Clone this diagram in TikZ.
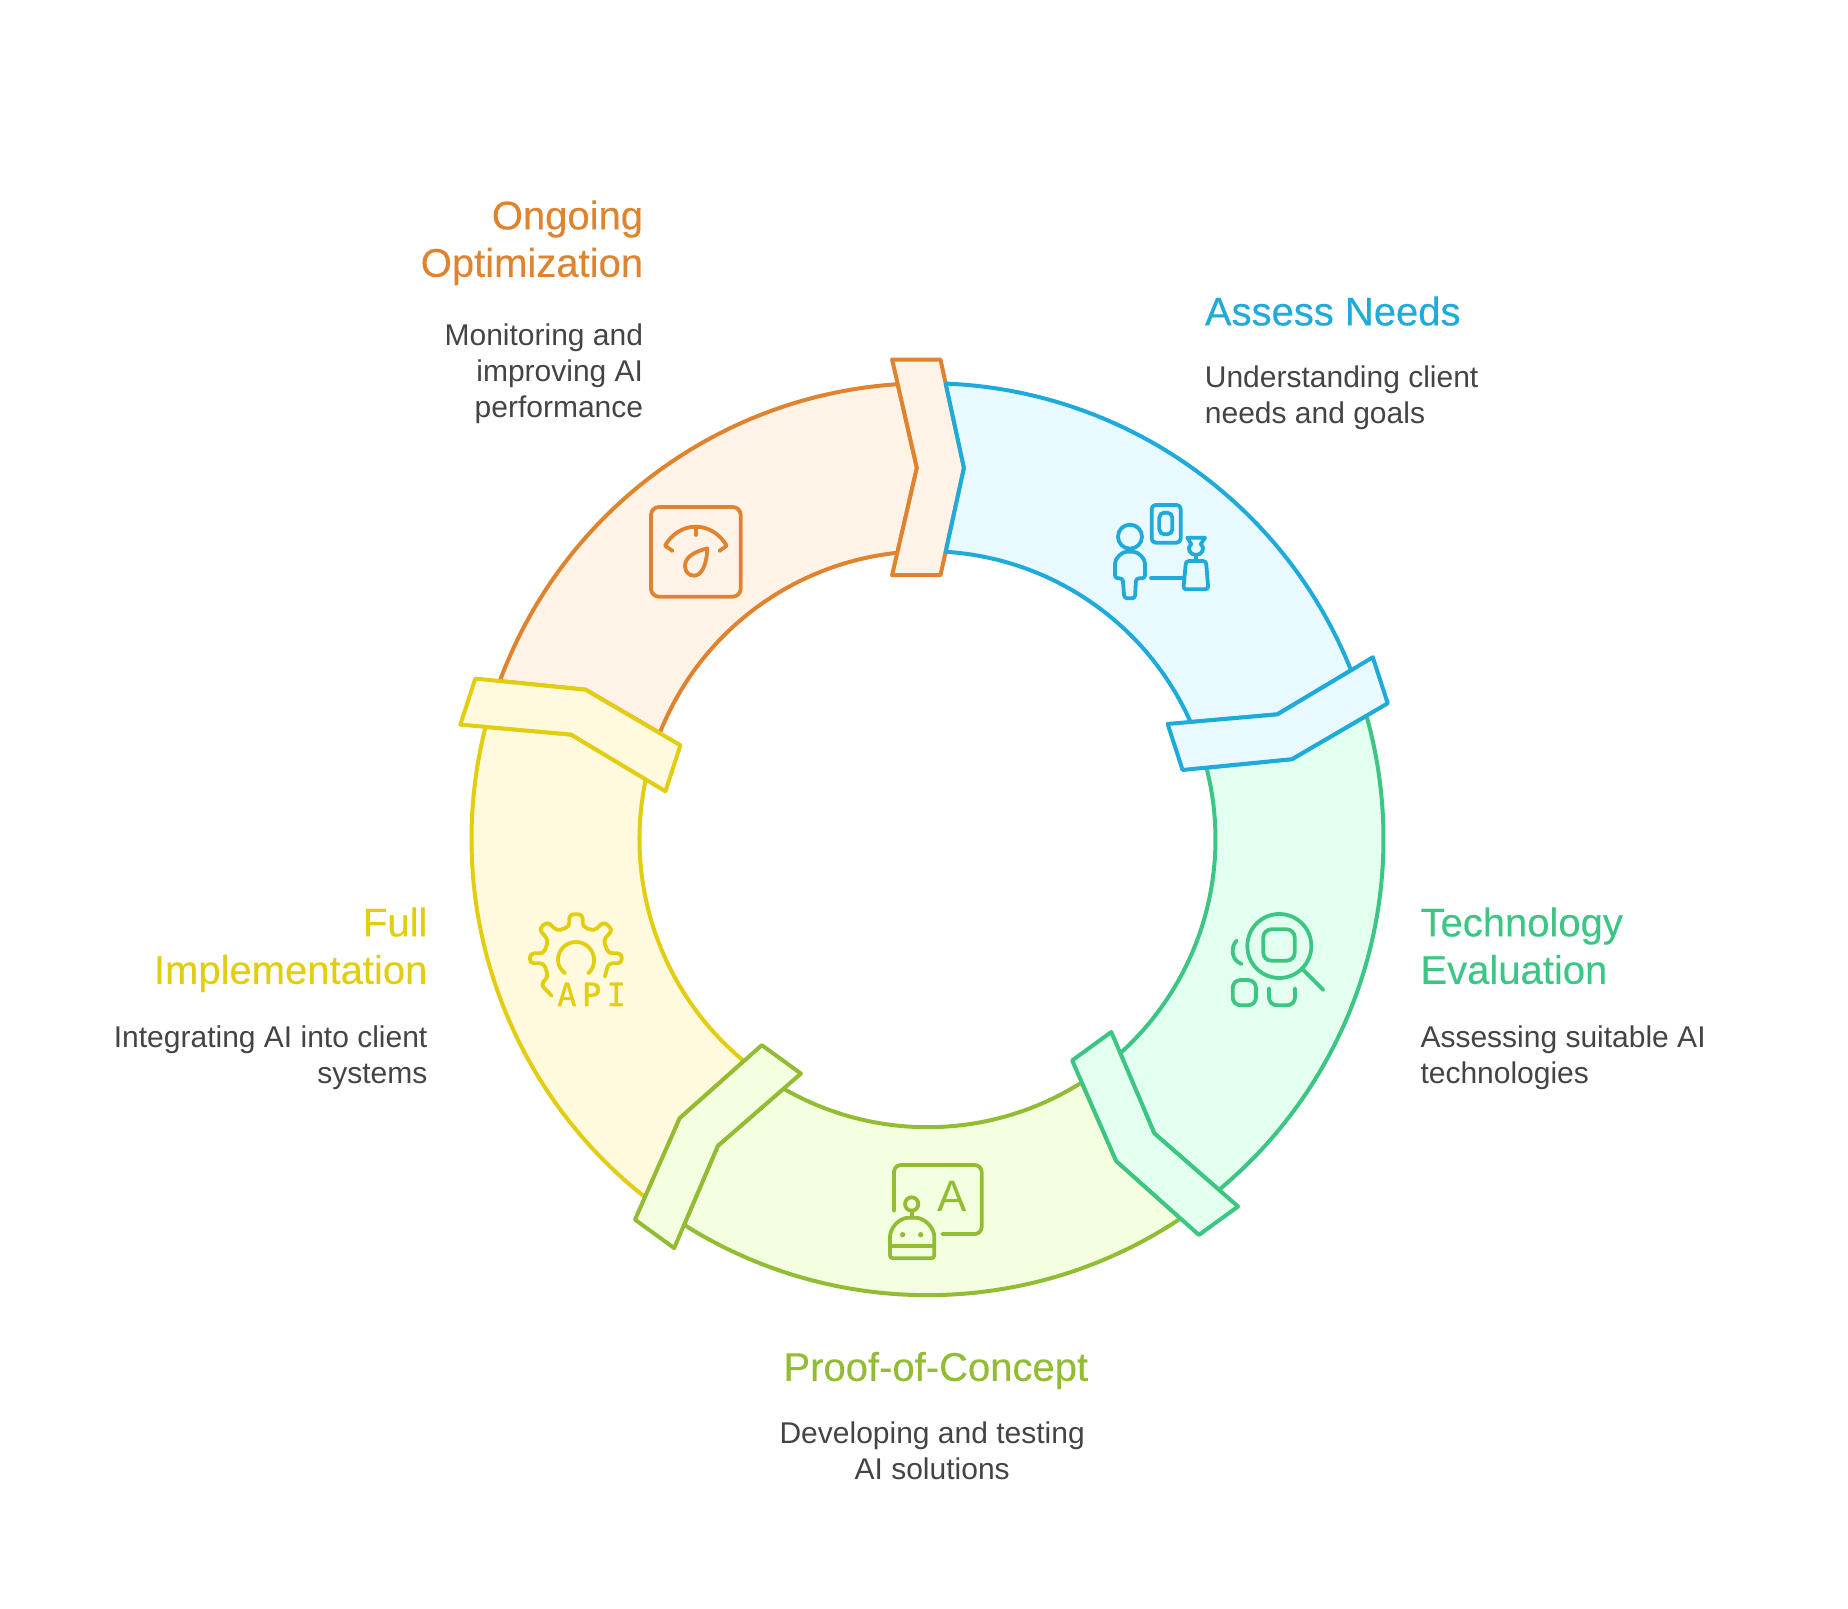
\documentclass[tikz,border=0pt]{standalone}
\usepackage{fontspec}
\setmainfont{Liberation Sans}
\newfontfamily\titlefont[FakeBold=0.25]{Liberation Sans}
\newfontfamily\apifont[LetterSpace=17,FakeBold=1]{DejaVu Sans Mono}
\definecolor{optline}{HTML}{E0832F}
\definecolor{optback}{HTML}{FFF3E8}
\definecolor{assessline}{HTML}{1EABDA}
\definecolor{assessback}{HTML}{E8FAFF}
\definecolor{techline}{HTML}{3CC583}
\definecolor{techback}{HTML}{E2FFF0}
\definecolor{proofline}{HTML}{93BC35}
\definecolor{proofback}{HTML}{F4FFE0}
\definecolor{fullline}{HTML}{E2CD10}
\definecolor{fullback}{HTML}{FFFADD}
\definecolor{bodytext}{HTML}{444444}
\begin{document}
\begin{tikzpicture}[x=0.5pt,y=0.5pt]
\tikzstyle{title}=[inner sep=0pt,font=\titlefont\fontsize{20}{23.7}\selectfont]
\tikzstyle{desc}=[inner sep=0pt,text=bodytext,font=\fontsize{15}{18}\selectfont]
\tikzstyle{ring}=[line width=2pt,line join=round]
\tikzstyle{icon}=[line width=1.9pt,line cap=round,line join=round]
\tikzstyle{iconat}=[shift={(#1)},scale=1/3,yscale=-1]
\useasboundingbox (-927.5,-768.8) rectangle (920.5,839.2);
% one segment and its chevron, turned round the ring
\foreach \rot/\edgecol/\backcol in {0/optline/optback,72/fullline/fullback,144/proofline/proofback,216/techline/techback,288/assessline/assessback} {
  \begin{scope}[rotate=\rot,ring,draw=\edgecol,fill=\backcol]
    \filldraw (159.71:456) arc[start angle=159.71,end angle=93.74,radius=456]
      -- (-10.6,371.3) -- (95.98:288) arc[start angle=95.98,end angle=158.37,radius=288]
      -- (156.39:373.1) -- cycle;
    \filldraw (-35.4,479.7) -- (13,479.7) -- (36.5,371.3) -- (13,264)
      -- (-35.4,264) -- (-10.6,371.3) -- cycle;
  \end{scope}
}
% gauge
\begin{scope}[iconat={630-927.5,839.2-490},icon,draw=optline]
  \draw[rounded corners=4pt] (63,51) rectangle (332,320);
  \draw (128,183) -- (105,167) .. controls (125,132) and (160,110) .. (197,110)
    .. controls (235,110) and (270,132) .. (290,167) -- (268,183);
  \draw (197,110) -- (197,135);
  \draw (232,175) .. controls (195,185) and (165,200) .. (165,228)
    .. controls (165,246) and (178,257) .. (192,257)
    .. controls (215,257) and (230,225) .. (232,175) -- cycle;
\end{scope}
% person and vase
\begin{scope}[iconat={1100-927.5,839.2-490},icon,draw=assessline]
  \draw[rounded corners=2pt] (155,45) rectangle (242,158);
  \draw[rounded corners=2.5pt] (178,68) rectangle (217,133);
  \draw (90,140) circle[radius=36];
  \draw[rounded corners=1.5pt] (45,265) -- (45,230) .. controls (45,205) and (65,185) .. (90,185)
    .. controls (115,185) and (135,205) .. (135,230) -- (135,265) -- (108,265)
    -- (105,325) -- (73,325) -- (68,265) -- cycle;
  \draw (153,264) -- (252,264);
  \draw[rounded corners=1.5pt] (258,213) -- (318,213) -- (325,298) -- (250,298) -- cycle;
  \draw (288,213) -- (288,195);
  \draw (262,143) -- (315,143) -- (302,163) .. controls (318,175) and (305,195) .. (288,195)
    .. controls (271,195) and (258,175) .. (274,163) -- cycle;
\end{scope}
% magnifier
\begin{scope}[iconat={1220-927.5,839.2-900},icon,draw=techline]
  \draw (178,138) circle[radius=96];
  \draw[rounded corners=4pt] (130,88) rectangle (224,182);
  \draw (245,205) -- (310,270);
  \draw (50,122) .. controls (32,140) and (32,180) .. (65,192);
  \draw[rounded corners=4pt] (38,240) rectangle (108,316);
  \draw[rounded corners=4pt] (147,265) -- (147,316) -- (225,316) -- (225,265);
\end{scope}
% robot and board
\begin{scope}[iconat={880-927.5,839.2-1160},icon,draw=proofline]
  \draw[rounded corners=3.5pt] (42,153) -- (42,15) -- (305,15) -- (305,222) -- (187,222);
  \node[inner sep=0pt,text=proofline,font=\fontsize{22}{22}\selectfont] (boardA) at (218,110) {A};
  \draw (95,132) circle[radius=20];
  \draw (95,152) -- (95,172);
  \draw[rounded corners=1.5pt] (30,240) .. controls (30,203) and (58,173) .. (96,173)
    .. controls (134,173) and (163,203) .. (163,240) -- (163,295) -- (30,295) -- cycle;
  \draw (30,258) -- (163,258);
  \fill[proofline] (68,224) circle[radius=8] (122,224) circle[radius=8];
\end{scope}
% gear
\begin{scope}[iconat={520-927.5,839.2-905},icon,draw=fullline]
  \draw[rounded corners=2pt] (95,272) -- (62,238) -- (85,215) -- (72,175) -- (30,175) -- (30,145)
    -- (72,145) -- (85,105) -- (57,72) -- (82,50) -- (112,78) -- (148,65) -- (148,28)
    -- (188,28) -- (188,65) -- (222,78) -- (252,50) -- (278,75) -- (250,105) -- (265,145)
    -- (305,145) -- (305,175) -- (265,175) -- (255,215);
  \draw (135,205) .. controls (122,194) and (114,181) .. (114,165)
    .. controls (114,135) and (138,111) .. (168,111)
    .. controls (198,111) and (222,135) .. (222,165)
    .. controls (222,181) and (218,193) .. (205,205);
  \node[inner sep=0pt,text=fullline,font=\apifont\fontsize{16}{16}\selectfont] (gearapi) at (215,268) {API};
\end{scope}
% labels
\node[title,text=optline,align=right,anchor=north east] (opttitle) at (-284,639.2) {Ongoing\\Optimization};
\node[desc,align=right,anchor=north east] (optdesc) at (-284,516) {Monitoring and\\improving AI\\performance};
\node[title,text=assessline,align=left,anchor=north west] (assesstitle) at (277,543.2) {Assess Needs};
\node[desc,align=left,anchor=north west] (assessdesc) at (277,474) {Understanding client\\needs and goals};
\node[title,text=techline,align=left,anchor=north west] (techtitle) at (492.6,-67.8) {Technology\\Evaluation};
\node[desc,align=left,anchor=north west] (techdesc) at (492.6,-186) {Assessing suitable AI\\technologies};
\node[title,text=proofline,align=center,anchor=north] (prooftitle) at (8.3,-512.3) {Proof-of-Concept};
\node[desc,align=center,anchor=north] (proofdesc) at (4.7,-582) {Developing and testing\\AI solutions};
\node[title,text=fullline,align=right,anchor=north east] (fulltitle) at (-499.7,-67.8) {Full\\Implementation};
\node[desc,align=right,anchor=north east] (fulldesc) at (-499.7,-186) {Integrating AI into client\\systems};
\end{tikzpicture}
\end{document}
